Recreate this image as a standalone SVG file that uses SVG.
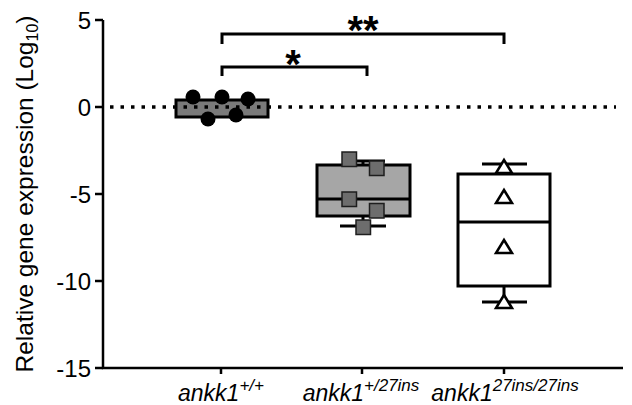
<svg xmlns="http://www.w3.org/2000/svg" width="632" height="405" viewBox="0 0 632 405">
<style>
text{font-family:"Liberation Sans",Arial,sans-serif;fill:#000}
.tick{font-size:24px;text-anchor:end}
.ax{stroke:#000;stroke-width:2.5;fill:none}
.bx{stroke:#000;stroke-width:3;stroke-linejoin:miter}
.ln{stroke:#000;stroke-width:3;fill:none}
.sq{fill:#6d6d6d;stroke:#1e1e1e;stroke-width:1.5}
.tri{fill:#fff;stroke:#000;stroke-width:2.5;stroke-linejoin:miter}
.xl{font-size:23px;font-style:italic;text-anchor:middle}
.star{font-size:40px;font-weight:bold;text-anchor:middle}
</style>
<defs>
<path id="tr" d="M0,-7 L8,6 L-8,6 Z"/>
</defs>
<rect width="632" height="405" fill="#fff"/>
<g id="axes">
<path class="ax" d="M103,20 V368 H623"/>
<path class="ax" d="M95,20 H103 M95,107 H103 M95,194 H103 M95,281 H103 M95,368 H103"/>
<path class="ax" d="M221,368 V374 M362,368 V374 M504,368 V374"/>
<text class="tick" x="91" y="28.5">5</text>
<text class="tick" x="91" y="115.5">0</text>
<text class="tick" x="91" y="202.5">-5</text>
<text class="tick" x="91" y="289.5">-10</text>
<text class="tick" x="91" y="376.5">-15</text>
<text transform="translate(33,194) rotate(-90)" font-size="24.5" text-anchor="middle">Relative gene expression (Log<tspan font-size="16" dy="5">10</tspan><tspan dy="-5">)</tspan></text>
<text class="xl" x="221" y="401">ankk1<tspan font-size="17" dy="-10">+/+</tspan></text>
<text class="xl" x="361" y="401">ankk1<tspan font-size="17" dy="-10">+/27ins</tspan></text>
<text class="xl" x="505" y="401">ankk1<tspan font-size="17" dy="-10">27ins/27ins</tspan></text>
</g>
<g id="group1">
<rect class="bx" x="176" y="100" width="92" height="17" fill="#7a7a7a"/>
<circle cx="193" cy="97" r="7.5"/>
<circle cx="222" cy="97" r="7.5"/>
<circle cx="248" cy="99" r="7.5"/>
<circle cx="208" cy="119" r="7.5"/>
<circle cx="236" cy="115" r="7.5"/>
</g>
<g id="group2">
<path class="ln" d="M342,161 H385 M363,161 V165 M363,216 V226 M340,226 H386"/>
<rect class="bx" x="317" y="165" width="93" height="51" fill="#a6a6a6"/>
<path class="ln" d="M317,199 H410"/>
<rect class="sq" x="342" y="152" width="14.5" height="14.5"/>
<rect class="sq" x="369.5" y="161" width="14.5" height="14.5"/>
<rect class="sq" x="342" y="192" width="14.5" height="14.5"/>
<rect class="sq" x="369.5" y="203.5" width="14.5" height="14.5"/>
<rect class="sq" x="356" y="220" width="14.5" height="14.5"/>
</g>
<g id="group3">
<path class="ln" d="M482,164 H527 M504,164 V174 M504,286 V302 M482,302 H527"/>
<rect class="bx" x="458" y="174" width="92" height="112" fill="#fff"/>
<path class="ln" d="M458,222 H550"/>
<use href="#tr" class="tri" x="504" y="167"/>
<use href="#tr" class="tri" x="504" y="197"/>
<use href="#tr" class="tri" x="504" y="247"/>
<use href="#tr" class="tri" x="504" y="302"/>
</g>
<g id="zero-line">
<path d="M110,107 H616" stroke="#000" stroke-width="3.5" stroke-dasharray="3.5 7" fill="none"/>
</g>
<g id="connectors">
<path class="ln" stroke-width="2.5" d="M222,76 V67 H367 V76"/>
<path class="ln" stroke-width="2.5" d="M222,44 V34 H504 V44"/>
<text class="star" x="293" y="78">*</text>
<text class="star" x="363" y="44">**</text>
</g>
</svg>
